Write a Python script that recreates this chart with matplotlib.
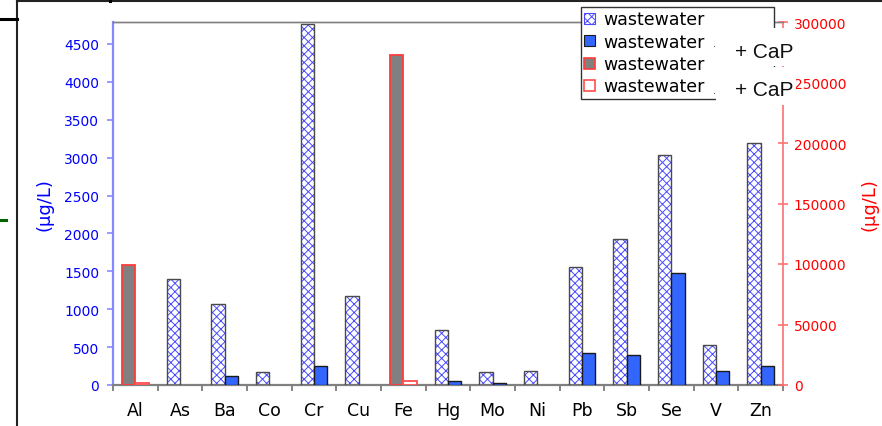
import numpy as np
import matplotlib
matplotlib.use("Agg")
import matplotlib.pyplot as plt
from matplotlib.patches import Patch, Rectangle
from matplotlib.lines import Line2D

# data (μg/L)
elements = ['Al', 'As', 'Ba', 'Co', 'Cr', 'Cu', 'Fe', 'Hg', 'Mo', 'Ni',
            'Pb', 'Sb', 'Se', 'V', 'Zn']
nan = np.nan
# left axis series
wastewater = [nan, 1400, 1070, 170, 4760, 1180, nan, 730, 170, 190,
              1555, 1920, 3040, 530, 3195]
wastewater_cap = [nan, nan, 118, nan, 245, nan, nan, 50, 25, nan,
                  420, 398, 1475, 190, 255]
# right axis series
wastewater_hi = [99200, nan, nan, nan, nan, nan, 272500, nan, nan, nan,
                 nan, nan, nan, nan, nan]
wastewater_hi_cap = [1500, nan, nan, nan, nan, nan, 3000, nan, nan, nan,
                     nan, nan, nan, nan, nan]

left_ticks = list(range(0, 4501, 500))
right_ticks = list(range(0, 300001, 50000))
legend_labels = ['wastewater', 'wastewater', 'wastewater', 'wastewater']
cap_note = '+ CaP'
unit_label = '(μg/L)'

W, H = 882, 427


def fx(p):
    return p / W


def fy(p):
    return 1 - p / H


plt.rcParams['font.family'] = ['DejaVu Sans']
plt.rcParams['hatch.linewidth'] = 0.7

fig = plt.figure(figsize=(W / 100, H / 100), dpi=100)
ax = fig.add_axes([fx(113), fy(386), fx(783) - fx(113), fy(23) - fy(386)])
ax2 = ax.twinx()

x = np.arange(len(elements))
bw = 0.302
off = bw / 2
hatch_col = '#4a4aff'


def draw(axis, xs, vals, **kw):
    vals = np.array(vals, dtype=float)
    m = ~np.isnan(vals)
    return axis.bar(xs[m], vals[m], bw, **kw)


# hatched series: hatch layer then outline layer
draw(ax, x - off, wastewater, facecolor='white', edgecolor=hatch_col,
     hatch='xxxx', linewidth=0, zorder=2)
draw(ax, x - off, wastewater, fill=False, edgecolor='#4a4a4a',
     linewidth=1.0, zorder=3)
draw(ax, x + off, wastewater_cap, color='#3366ff', edgecolor='#1a1a1a',
     linewidth=1.0, zorder=3)

draw(ax2, x - off, wastewater_hi, color='#808080', edgecolor='#ff3b3b',
     linewidth=1.3, zorder=3)
draw(ax2, x + off, wastewater_hi_cap, color='white', edgecolor='#ff4d4d',
     linewidth=1.3, zorder=3)

ax.set_xlim(-0.5, len(elements) - 0.5)
ax.set_ylim(0, 4790)
ax2.set_ylim(0, 299500)

# x axis: ticks at category boundaries, labels at centres
ax.set_xticks(np.arange(len(elements) + 1) - 0.5)
ax.set_xticklabels([])
ax.set_xticks(x, minor=True)
ax.set_xticklabels(elements, minor=True, fontsize=12.5)
ax.tick_params(axis='x', which='major', direction='out', length=4.5,
               width=1.2, color='#707070')
ax.tick_params(axis='x', which='minor', length=0, pad=11.5)

ax.set_yticks(left_ticks)
ax.set_yticklabels([str(t) for t in left_ticks], fontsize=10, color='#0000ff')
ax.tick_params(axis='y', direction='out', length=4.5, width=1.1,
               color='#8080ff', pad=5.5)

ax2.set_yticks(right_ticks)
ax2.set_yticklabels([str(t) for t in right_ticks], fontsize=10,
                    color='#ff0000')
ax2.tick_params(axis='y', direction='inout', length=7.5, width=1.1,
                color='#ff6666', pad=4)

for a in (ax, ax2):
    a.spines['top'].set_color('#808080')
    a.spines['top'].set_linewidth(1.0)
ax.spines['left'].set_color('#8888ff')
ax.spines['left'].set_linewidth(1.6)
ax.spines['bottom'].set_color('#808080')
ax.spines['bottom'].set_linewidth(1.6)
ax.spines['right'].set_visible(False)
ax2.spines['left'].set_visible(False)
ax2.spines['bottom'].set_visible(False)
ax2.spines['right'].set_color('#ff7070')
ax2.spines['right'].set_linewidth(1.2)

fig.text(fx(44.5), fy(205), unit_label, rotation=90, ha='center',
         va='center', fontsize=13, color='#0000ff')
fig.text(fx(870), fy(205), unit_label, rotation=90, ha='center',
         va='center', fontsize=13, color='#ff0000')

# legend
handles = [
    Patch(facecolor='white', edgecolor=hatch_col, hatch='xxxx', linewidth=0.8),
    Patch(facecolor='#3366ff', edgecolor='#1a1a1a', linewidth=0.8),
    Patch(facecolor='#808080', edgecolor='#ff3b3b', linewidth=1.2),
    Patch(facecolor='white', edgecolor='#ff4d4d', linewidth=1.2),
]
leg = ax2.legend(handles, legend_labels, loc='upper left',
                 bbox_to_anchor=(fx(581), fy(8) - 0.2, fx(774) - fx(581), 0.2),
                 bbox_transform=fig.transFigure, mode='expand',
                 borderaxespad=0, fontsize=12.5, handlelength=0.6,
                 handleheight=0.6, handletextpad=0.5, borderpad=0.2,
                 labelspacing=0.25, fancybox=False, framealpha=1)
leg.get_frame().set_edgecolor('#333333')
leg.get_frame().set_linewidth(1.0)

# white note boxes laid over the legend's right side
for top, bot in ((29, 66.5), (68, 106)):
    fig.add_artist(Rectangle((fx(716), fy(bot)), fx(796) - fx(716),
                             fy(top) - fy(bot), transform=fig.transFigure,
                             facecolor='white', edgecolor='none', zorder=6))
for yc in (52, 90):
    fig.text(fx(735), fy(yc), cap_note, ha='left', va='center',
             fontsize=15, family='Liberation Sans', color='#111111',
             zorder=7)
for yc in (47, 94):
    fig.text(fx(714), fy(yc), '·', ha='center', va='center', fontsize=7,
             color='#444444', zorder=7)

# surrounding frame fragments
frame = [((17, 882), (2, 2), '#222222', 1.5),
         ((17, 17), (2, 427), '#222222', 1.5),
         ((0, 17), (20, 20), '#000000', 2.2),
         ((110, 110), (0, 2), '#000000', 2.2),
         ((0, 6), (221, 221), '#006400', 2.2)]
for xs, ys, c, lw in frame:
    fig.add_artist(Line2D([fx(v) for v in xs], [fy(v) for v in ys],
                          transform=fig.transFigure, color=c, linewidth=lw,
                          zorder=8))

fig.savefig('out.png', dpi=100)
